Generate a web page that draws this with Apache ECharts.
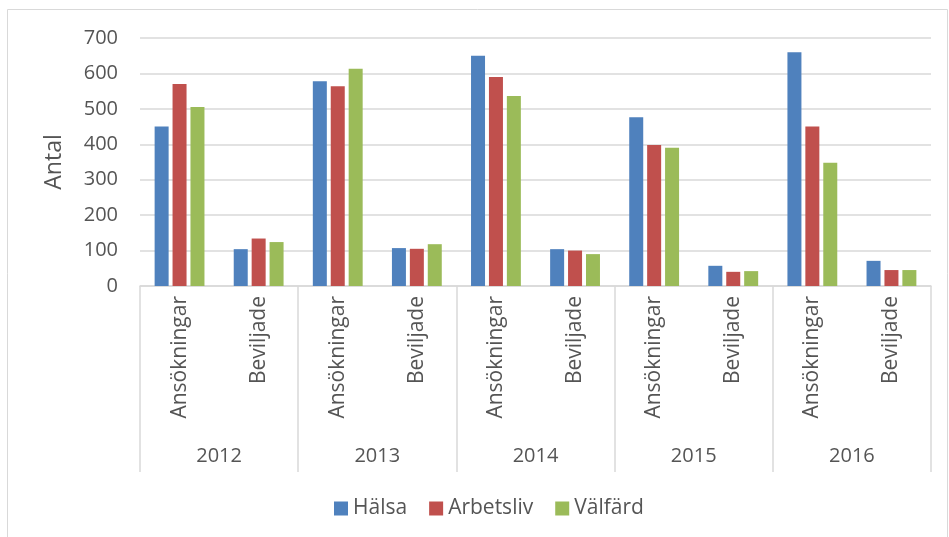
<!DOCTYPE html>
<html>
<head>
<meta charset="utf-8">
<script src="https://cdn.jsdelivr.net/npm/echarts@6/dist/echarts.min.js"></script>
<style>
  html, body { margin: 0; padding: 0; background: #fff; }
  #chart { width: 949px; height: 537px; }
</style>
</head>
<body>
<div id="chart"></div>
<script>
// data
var years = ['2012', '2013', '2014', '2015', '2016']
var kinds = ['Ansökningar', 'Beviljade']
var halsa = [450, 104, 578, 107, 650, 104, 476, 57, 660, 71]
var arbetsliv = [570, 134, 564, 105, 590, 100, 398, 40, 450, 45]
var valfard = [505, 124, 613, 118, 536, 90, 390, 42, 348, 45]
var yTicks = [0, 100, 200, 300, 400, 500, 600, 700]

var cats = []
years.forEach(function (y) {
  kinds.forEach(function (k) { cats.push(k) })
})

var font = 'Open Sans'
var txt = '#555555'
var gridCol = '#d9d9d9'

function bar(name, color, data) {
  return {
    name: name,
    type: 'bar',
    barWidth: 14,
    barGap: '28%',
    itemStyle: { color: color },
    data: data
  }
}

var chart = echarts.init(document.getElementById('chart'))
chart.setOption({
  animation: false,
  textStyle: { fontFamily: font, color: txt },
  graphic: [{
    type: 'rect',
    shape: { x: 7.5, y: 9.5, width: 940, height: 540 },
    style: { fill: 'none', stroke: gridCol, lineWidth: 1 },
    silent: true
  }],
  grid: { left: 140, right: 18, top: 38, bottom: 251 },
  legend: {
    bottom: 13,
    left: 329,
    itemWidth: 14,
    itemHeight: 14,
    itemGap: 22,
    icon: 'rect',
    textStyle: { fontFamily: font, fontSize: 21, color: txt },
    data: ['Hälsa', 'Arbetsliv', 'Välfärd']
  },
  xAxis: [{
    type: 'category',
    data: cats,
    axisLine: { lineStyle: { color: gridCol, width: 1.5 } },
    axisTick: { show: false },
    axisLabel: {
      rotate: 90,
      margin: 10,
      fontFamily: font,
      fontSize: 21,
      color: txt,
      interval: 0
    }
  }, {
    type: 'category',
    data: years,
    position: 'bottom',
    axisLine: { show: false },
    axisTick: { show: true, length: 186, lineStyle: { color: gridCol, width: 1.5 } },
    axisLabel: {
      margin: 160,
      fontFamily: font,
      fontSize: 20,
      color: txt
    }
  }],
  yAxis: {
    type: 'value',
    min: yTicks[0],
    max: yTicks[yTicks.length - 1],
    interval: 100,
    name: 'Antal',
    nameLocation: 'middle',
    nameGap: 74,
    nameRotate: 90,
    nameTextStyle: { fontFamily: font, fontSize: 23, color: txt },
    axisLine: { show: false },
    axisTick: { show: false },
    axisLabel: { margin: 22, fontFamily: font, fontSize: 20, color: txt },
    splitLine: { lineStyle: { color: gridCol, width: 1.5 } }
  },
  series: [
    bar('Hälsa', '#4f81bd', halsa),
    bar('Arbetsliv', '#c0504d', arbetsliv),
    bar('Välfärd', '#9bbb59', valfard)
  ]
})
</script>
</body>
</html>
